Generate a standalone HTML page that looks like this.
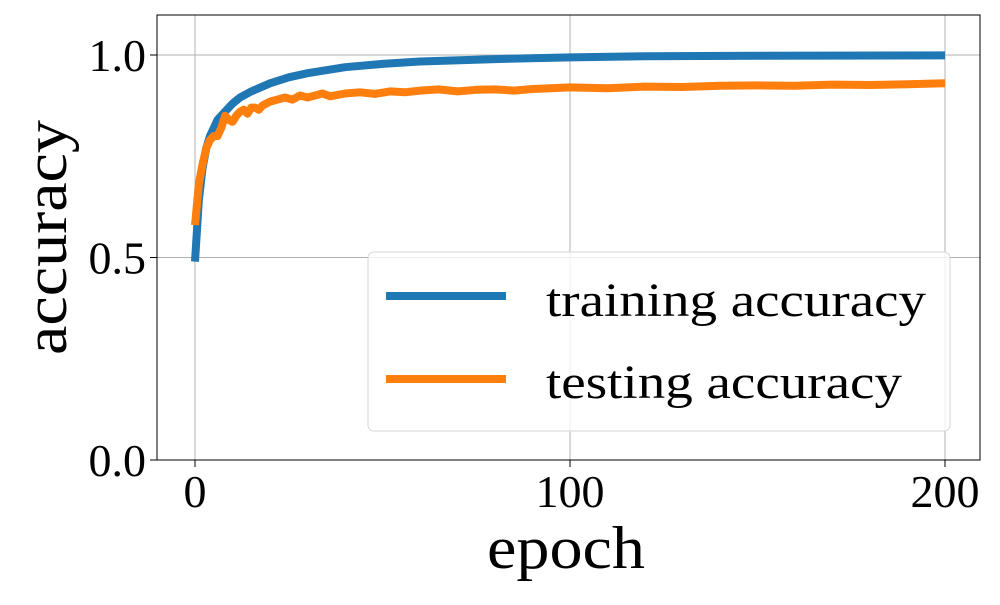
<!DOCTYPE html>
<html><head><meta charset="utf-8"><style>
body{margin:0;background:#fff;}
svg text{font-family:"Liberation Serif",serif;fill:#000;}
</style></head><body>
<svg id="chart" width="1000" height="600" xmlns="http://www.w3.org/2000/svg">
<rect x="0" y="0" width="1000" height="600" fill="#fff"/>
<g id="grid"></g>
<g id="series"></g>
<rect x="157" y="15" width="823" height="445" fill="none" stroke="#000" stroke-width="1"/>
<g id="ticks"></g>
<text x="487" y="568" font-size="60" textLength="158" lengthAdjust="spacingAndGlyphs">epoch</text>
<text transform="translate(66,355) rotate(-90)" font-size="60" textLength="235" lengthAdjust="spacingAndGlyphs">accuracy</text>
<g>
<rect x="368" y="252" width="582" height="179" rx="6" fill="#fff" fill-opacity="0.8" stroke="#d6d6d6" stroke-width="1"/>
<line x1="386" y1="296" x2="506" y2="296" stroke="#1f77b4" stroke-width="8"/>
<text x="546" y="316" font-size="48" textLength="380" lengthAdjust="spacingAndGlyphs">training accuracy</text>
<line x1="386" y1="379" x2="506" y2="379" stroke="#ff7f0e" stroke-width="8"/>
<text x="546" y="398" font-size="48" textLength="356" lengthAdjust="spacingAndGlyphs">testing accuracy</text>
</g>
</svg>
<script>
const xTicks=[0,100,200];
const yTicks=[0.0,0.5,1.0];
const yTickLabels=["0.0","0.5","1.0"];
const trainEpochs=[0,1,2,3,4,5,6,8,10,12,15,20,25,30,40,50,60,80,100,120,150,200];
const trainAcc=[0.49,0.64,0.72,0.77,0.80,0.82,0.84,0.86,0.88,0.895,0.91,0.93,0.945,0.955,0.97,0.978,0.984,0.99,0.994,0.997,0.998,0.999];
const testEpochs=[0,1,2,3,4,5,6,7,8,9,10,11,12,13,14,15,16,17,18,19,20,22,24,26,28,30,32,34,36,40,44,48,52,56,60,65,70,75,80,85,90,95,100,110,120,130,140,150,160,170,180,190,200];
const testAcc=[0.58,0.68,0.73,0.77,0.79,0.80,0.80,0.82,0.85,0.84,0.835,0.85,0.86,0.865,0.855,0.87,0.87,0.865,0.875,0.88,0.885,0.89,0.895,0.89,0.9,0.895,0.9,0.905,0.898,0.905,0.908,0.904,0.91,0.908,0.912,0.915,0.91,0.914,0.915,0.912,0.916,0.918,0.92,0.918,0.922,0.921,0.924,0.925,0.924,0.927,0.926,0.928,0.93];
const NS="http://www.w3.org/2000/svg";
const X=v=>195+v*(945-195)/200;
const Y=v=>460-v*405;
const grid=document.getElementById('grid'),ticks=document.getElementById('ticks'),series=document.getElementById('series');
function mk(t,a,p){const e=document.createElementNS(NS,t);for(const k in a)e.setAttribute(k,a[k]);p.appendChild(e);return e;}
xTicks.forEach(v=>{
 const g=mk('line',{x1:X(v),x2:X(v),y1:15,y2:460,stroke:'#b0b0b0','stroke-width':1},grid);
 
 
 const t=mk('line',{x1:X(v),x2:X(v),y1:460,y2:467,stroke:'#000'},ticks);
 
 
 const l=mk('text',{x:X(v),y:507,'font-size':46,'text-anchor':'middle'},ticks);
 l.textContent=v;
 
 
});
yTicks.forEach((v,i)=>{
 const g=mk('line',{x1:157,x2:980,y1:Y(v),y2:Y(v),stroke:'#b0b0b0','stroke-width':1},grid);
 
 
 const t=mk('line',{x1:150,x2:157,y1:Y(v),y2:Y(v),stroke:'#000'},ticks);
 
 
 const l=mk('text',{x:146,y:Y(v)+16,'font-size':46,'text-anchor':'end'},ticks);
 l.textContent=yTickLabels[i];
 
 
});
function line(xs,ys,c,name){
 const d=xs.map((x,i)=>(i?'L':'M')+X(x).toFixed(1)+','+Y(ys[i]).toFixed(1)).join(' ');
 const p=mk('path',{d:d,fill:'none',stroke:c,'stroke-width':8,'stroke-linejoin':'round'},series);
 
 
}
line(trainEpochs,trainAcc,'#1f77b4','training-accuracy-line');
line(testEpochs,testAcc,'#ff7f0e','testing-accuracy-line');
</script>
</body></html>
